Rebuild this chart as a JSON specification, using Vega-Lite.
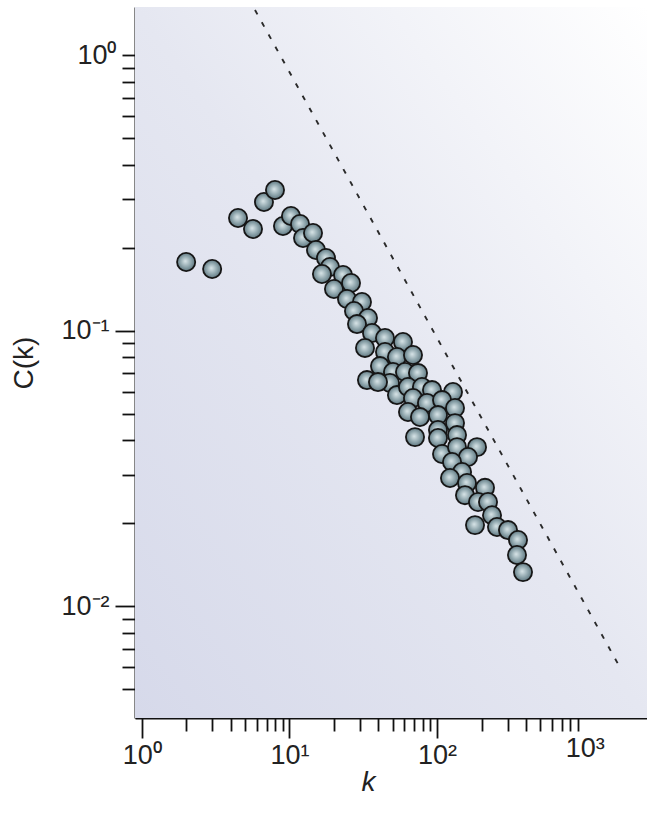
{
  "$schema": "https://vega.github.io/schema/vega-lite/v6.json",
  "autosize": {"type": "none"},
  "width": 512,
  "height": 711,
  "padding": {"left": 135, "top": 7, "right": 0, "bottom": 96},
  "background": "white",
  "config": {
    "view": {"stroke": null},
    "font": "Liberation Sans",
    "axis": {"grid": false, "domainColor": "#111", "domainWidth": 2, "tickColor": "#111", "tickWidth": 1.8, "labelFont": "Liberation Sans", "labelFontSize": 27, "labelColor": "#222", "titleFont": "Liberation Sans", "titleFontWeight": "normal", "titleColor": "#222", "titleFontSize": 28}
  },
  "datasets": {
    "pts": [
      {"k": 2, "C": 0.1776}, {"k": 3, "C": 0.1675}, {"k": 4.49, "C": 0.2565}, {"k": 5.67, "C": 0.2339},
      {"k": 6.73, "C": 0.2933}, {"k": 7.99, "C": 0.324}, {"k": 9.05, "C": 0.2399}, {"k": 10.25, "C": 0.2608},
      {"k": 11.8, "C": 0.2439}, {"k": 12.37, "C": 0.217}, {"k": 14.45, "C": 0.2263}, {"k": 15.14, "C": 0.1963},
      {"k": 17.69, "C": 0.1836}, {"k": 18.83, "C": 0.1703}, {"k": 16.62, "C": 0.1606}, {"k": 23.07, "C": 0.1593},
      {"k": 20.04, "C": 0.1417}, {"k": 26.13, "C": 0.149}, {"k": 24.55, "C": 0.1303}, {"k": 31.0, "C": 0.1271},
      {"k": 27.38, "C": 0.1179}, {"k": 34.05, "C": 0.1112}, {"k": 28.69, "C": 0.1057}, {"k": 36.25, "C": 0.0981},
      {"k": 44.39, "C": 0.0941}, {"k": 32.5, "C": 0.0866}, {"k": 44.4, "C": 0.0837}, {"k": 58.75, "C": 0.091},
      {"k": 53.5, "C": 0.0803}, {"k": 41.06, "C": 0.0744}, {"k": 50.28, "C": 0.0708}, {"k": 33.52, "C": 0.0662},
      {"k": 47.98, "C": 0.0646}, {"k": 53.5, "C": 0.0584}, {"k": 68.68, "C": 0.0816}, {"k": 60.64, "C": 0.0708},
      {"k": 74.25, "C": 0.0702}, {"k": 39.8, "C": 0.0651}, {"k": 63.53, "C": 0.0625}, {"k": 79.0, "C": 0.0625},
      {"k": 92.37, "C": 0.0609}, {"k": 128.1, "C": 0.0599}, {"k": 68.68, "C": 0.057}, {"k": 85.43, "C": 0.0547},
      {"k": 108.0, "C": 0.056}, {"k": 63.53, "C": 0.0507}, {"k": 76.6, "C": 0.0486}, {"k": 101.4, "C": 0.0494},
      {"k": 132.2, "C": 0.0524}, {"k": 132.2, "C": 0.0462}, {"k": 101.4, "C": 0.0436}, {"k": 70.86, "C": 0.0411},
      {"k": 101.4, "C": 0.0408}, {"k": 136.4, "C": 0.0418}, {"k": 108.0, "C": 0.0357}, {"k": 136.4, "C": 0.0378},
      {"k": 186.3, "C": 0.0378}, {"k": 161.9, "C": 0.0348}, {"k": 126.2, "C": 0.0334}, {"k": 147.5, "C": 0.0307},
      {"k": 122.3, "C": 0.0292}, {"k": 159.4, "C": 0.028}, {"k": 211.0, "C": 0.0269}, {"k": 154.5, "C": 0.0253},
      {"k": 189.2, "C": 0.0239}, {"k": 221.2, "C": 0.0239}, {"k": 235.4, "C": 0.0214}, {"k": 180.6, "C": 0.0197},
      {"k": 254.4, "C": 0.0194}, {"k": 302, "C": 0.0189}, {"k": 353, "C": 0.0174}, {"k": 347.5, "C": 0.01534},
      {"k": 381.6, "C": 0.0133}
    ],
    "fit": [{"k": 5.85, "C": 1.459}, {"k": 1760, "C": 0.0059}]
  },
  "layer": [
    {
      "data": {"values": [{}]},
      "mark": {"type": "rect", "fill": {"gradient": "linear", "x1": 0, "y1": 1, "x2": 1, "y2": 0, "stops": [{"offset": 0, "color": "#d6d9ea"}, {"offset": 0.5, "color": "#e5e7f1"}, {"offset": 1, "color": "#ffffff"}]}},
      "encoding": {
        "x": {"value": 0}, "x2": {"value": "width"},
        "y": {"value": 0}, "y2": {"value": "height"}
      }
    },
    {
      "data": {"name": "fit"},
      "mark": {"type": "line", "stroke": "#2a2a2a", "strokeWidth": 1.9, "strokeDash": [5, 9], "clip": true},
      "encoding": {
        "x": {"field": "k", "type": "quantitative"},
        "y": {"field": "C", "type": "quantitative"}
      }
    },
    {
      "data": {"name": "pts"},
      "mark": {"type": "point", "filled": true, "opacity": 1, "size": 330, "stroke": "#161616", "strokeWidth": 1.8,
        "fill": {"gradient": "radial", "x1": 0.45, "y1": 0.45, "r1": 0, "x2": 0.5, "y2": 0.5, "r2": 0.55, "stops": [{"offset": 0, "color": "#d9e5e8"}, {"offset": 0.55, "color": "#8ea5ac"}, {"offset": 1, "color": "#566e77"}]}},
      "encoding": {
        "x": {"field": "k", "type": "quantitative"},
        "y": {"field": "C", "type": "quantitative"}
      }
    }
  ],
  "encoding": {
    "x": {
      "field": "k", "type": "quantitative",
      "scale": {"type": "log", "domain": [0.901, 2637], "nice": false, "zero": false},
      "axis": {
        "title": "k", "titleFontStyle": "italic", "titleX": 233, "titlePadding": 0,
        "values": [1,2,3,4,5,6,7,8,9,10,20,30,40,50,60,70,80,90,100,200,300,400,500,600,700,800,900,1000],
        "labelExpr": "datum.value == 1 ? '10⁰' : datum.value == 10 ? '10¹' : datum.value == 100 ? '10²' : datum.value == 1000 ? '10³' : ''",
        "tickSize": {"condition": {"test": "datum.value == 1 || datum.value == 10 || datum.value == 100", "value": 20}, "value": 13},
        "tickOpacity": {"condition": {"test": "datum.value == 1000", "value": 0}, "value": 1},
        "labelPadding": 4, "labelFlush": false, "labelOverlap": false
      }
    },
    "y": {
      "field": "C", "type": "quantitative",
      "scale": {"type": "log", "domain": [0.00393, 1.496], "nice": false, "zero": false},
      "axis": {
        "title": "C(k)", "titlePadding": 22,
        "values": [0.005,0.006,0.007,0.008,0.009,0.01,0.02,0.03,0.04,0.05,0.06,0.07,0.08,0.09,0.1,0.2,0.3,0.4,0.5,0.6,0.7,0.8,0.9,1],
        "labelExpr": "datum.value == 1 ? '10⁰' : datum.value == 0.1 ? '10⁻¹' : datum.value == 0.01 ? '10⁻²' : ''",
        "tickSize": {"condition": {"test": "datum.value == 0.1 || datum.value == 0.01", "value": 20}, "value": 13},
        "labelPadding": 6, "labelFlush": false, "labelOverlap": false, "labelBaseline": "middle"
      }
    }
  }
}
